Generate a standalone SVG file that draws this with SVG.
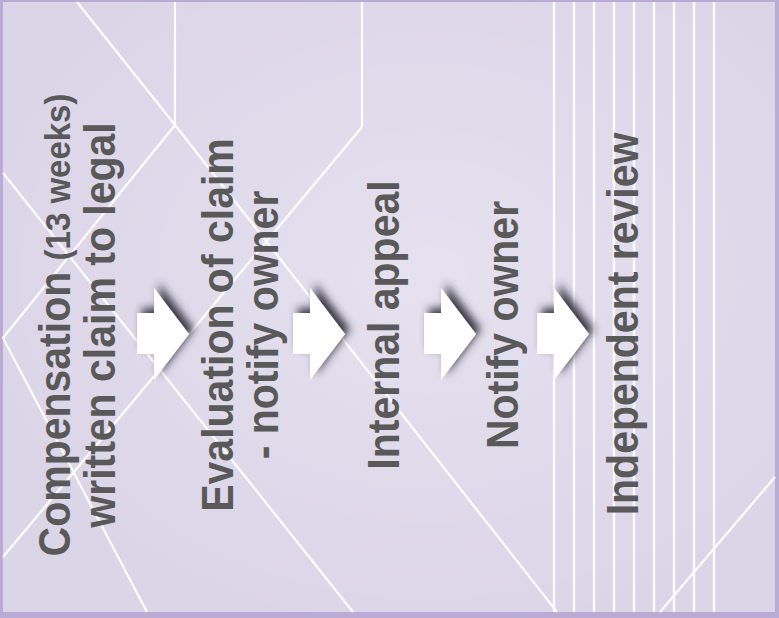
<svg xmlns="http://www.w3.org/2000/svg" width="779" height="618" viewBox="0 0 779 618">
<defs>
<radialGradient id="glow" cx="0.55" cy="0.45" r="0.6">
<stop offset="0" stop-color="#ffffff" stop-opacity="0.3"/>
<stop offset="1" stop-color="#ffffff" stop-opacity="0"/>
</radialGradient>
<filter id="shadow" x="-40%" y="-40%" width="180%" height="180%">
<feDropShadow dx="5" dy="-5" stdDeviation="4" flood-color="#2a2a35" flood-opacity="0.9"/>
</filter>
<polygon id="arrow" points="0,25 17,25 17,0 52,46 17,92 17,66 0,66"/>
</defs>
<style>
.bgline{stroke:#ffffff;stroke-width:2.2;fill:none;stroke-opacity:0.95}
.vline{stroke:#ffffff;stroke-width:2.4;stroke-opacity:0.9}
.lbl{font-family:"Liberation Sans",Arial,sans-serif;font-weight:bold;font-size:41px;fill:#595959}
.small{font-size:33px}
.arr{fill:#ffffff;filter:url(#shadow)}
</style>
<rect x="0" y="0" width="779" height="618" fill="#b9abd4"/>
<rect x="3" y="2" width="772" height="610" fill="#dbd5e8"/>
<rect x="3" y="2" width="772" height="610" fill="url(#glow)"/>
<g id="background-lines">
<line class="bgline" x1="175" y1="2" x2="175" y2="125"/>
<line class="bgline" x1="362" y1="2" x2="362" y2="127"/>
<line class="bgline" x1="77" y1="2" x2="175" y2="125"/>
<polyline class="bgline" points="175,125 3,338 147,612"/>
<line class="bgline" x1="175" y1="125" x2="557" y2="612"/>
<line class="bgline" x1="362" y1="127" x2="3" y2="557"/>
<line class="bgline" x1="3" y1="173" x2="353" y2="612"/>
<line class="bgline" x1="775" y1="477" x2="660" y2="612"/>
<line class="vline" x1="554" y1="2" x2="554" y2="612"/>
<line class="vline" x1="574" y1="2" x2="574" y2="612"/>
<line class="vline" x1="594" y1="2" x2="594" y2="612"/>
<line class="vline" x1="614" y1="2" x2="614" y2="612"/>
<line class="vline" x1="634" y1="2" x2="634" y2="612"/>
<line class="vline" x1="654" y1="2" x2="654" y2="612"/>
<line class="vline" x1="674" y1="2" x2="674" y2="612"/>
<line class="vline" x1="694" y1="2" x2="694" y2="612"/>
<line class="vline" x1="714" y1="2" x2="714" y2="612"/>
</g>
<g id="connectors">
<use href="#arrow" class="arr" x="137" y="288"/>
<use href="#arrow" class="arr" x="293" y="288"/>
<use href="#arrow" class="arr" x="424" y="288"/>
<use href="#arrow" class="arr" x="537" y="288"/>
</g>
<g id="node-compensation">
<text class="lbl" text-anchor="middle" transform="translate(70,325) rotate(-90) scale(1,1.08)">Compensation <tspan class="small">(13 weeks)</tspan></text>
<text class="lbl" text-anchor="middle" transform="translate(115,325) rotate(-90) scale(1,1.08)">written claim to legal</text>
</g>
<g id="node-evaluation">
<text class="lbl" text-anchor="middle" transform="translate(233,325) rotate(-90) scale(1,1.08)">Evaluation of claim</text>
<text class="lbl" text-anchor="middle" transform="translate(278,325) rotate(-90) scale(1,1.08)">- notify owner</text>
</g>
<g id="node-internal-appeal">
<text class="lbl" text-anchor="middle" transform="translate(399,325) rotate(-90) scale(1,1.08)">Internal appeal</text>
</g>
<g id="node-notify-owner">
<text class="lbl" text-anchor="middle" transform="translate(518,325) rotate(-90) scale(1,1.08)">Notify owner</text>
</g>
<g id="node-independent-review">
<text class="lbl" text-anchor="middle" transform="translate(638,324) rotate(-90) scale(1,1.08)">Independent review</text>
</g>
</svg>
